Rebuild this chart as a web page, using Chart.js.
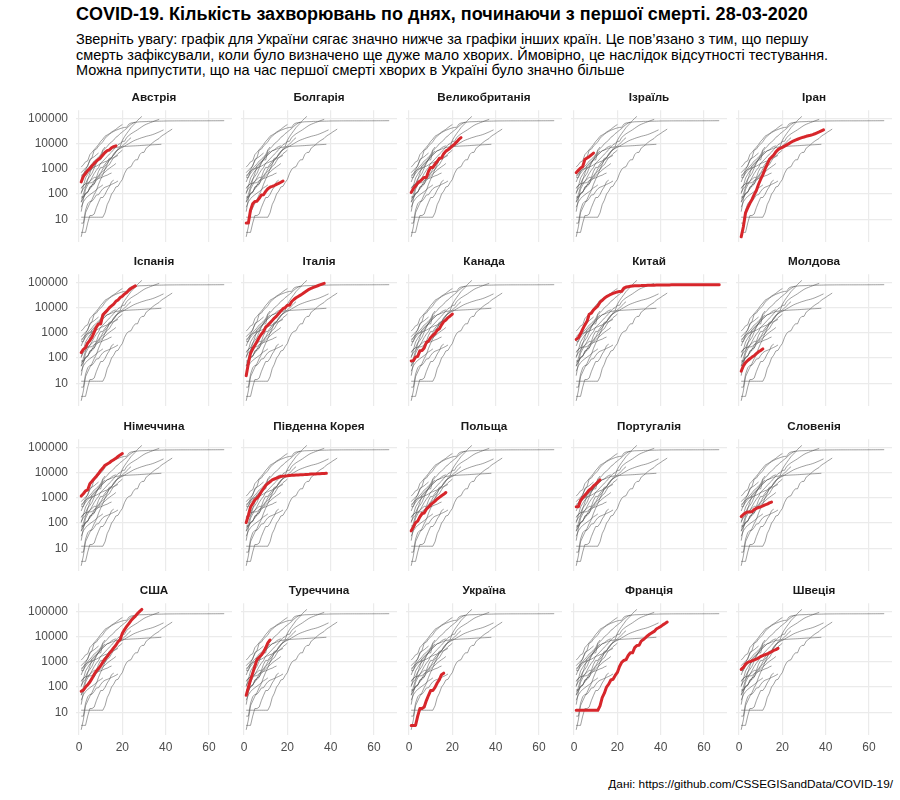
<!DOCTYPE html>
<html><head><meta charset="utf-8">
<script src="https://cdn.jsdelivr.net/npm/chart.js@4.4.1/dist/chart.umd.min.js"></script>
<style>
body{margin:0;width:900px;height:800px;background:#fff;position:relative;font-family:"Liberation Sans",Arial,sans-serif;overflow:hidden}
#title{position:absolute;left:76px;top:4px;font-weight:bold;font-size:18px;color:#000;white-space:nowrap}
#sub{position:absolute;left:76px;top:32px;font-size:14.5px;line-height:15.5px;color:#000;white-space:nowrap}
#cap{position:absolute;right:7px;top:777px;font-size:11.8px;color:#000}
canvas{position:absolute}
</style></head><body>
<div id="title">COVID-19. Кількість захворювань по днях, починаючи з першої смерті. 28-03-2020</div>
<div id="sub">Зверніть увагу: графік для України сягає значно нижче за графіки інших країн. Це пов’язано з тим, що першу<br>смерть зафіксували, коли було визначено ще дуже мало хворих. Ймовірно, це наслідок відсутності тестування.<br>Можна припустити, що на час першої смерті хворих в Україні було значно більше</div>
<div id="cap">Дані: https://github.com/CSSEGISandData/COVID-19/</div>
<script>
// Cumulative confirmed cases, day 1 = day of first death
const austria = [302,504,655,860,1018,1332,1646,2013,2388,2814,3582,4474,5283,5588,6909,7657,8271];
const bulgaria = [7,7,23,41,51,52,67,92,94,127,163,187,201,218,242,264,293,331];
const uk = [116,164,207,274,322,384,459,459,802,1144,1145,1551,1960,2642,2716,4014,5067,5745,6726,8164,9640,11812,14745,17312];
const israel = [705,883,1071,1238,2369,2693,3035,3619,4247];
const iran = [2,5,18,28,43,61,95,139,245,388,593,978,1501,2336,2922,3513,4747,5823,6566,7161,8042,9000,10075,11364,12729,13938,14991,16169,17361,18407,19644,20610,21638,23049,24811,27017,29406,32332,35408];
const spain = [165,222,259,400,500,673,1073,1695,2277,2277,5232,6391,7798,9942,11748,13910,17963,20410,25374,28768,35136,39885,49515,57786,65719,73235];
const italy = [20,62,155,229,322,453,655,888,1128,1694,2036,2502,3089,3858,4636,5883,7375,9172,10149,12462,12462,17660,21157,24747,27980,31506,35713,41035,47021,53578,59138,63927,69176,74386,80589,86498,92472];
const canada = [77,79,108,117,193,198,252,415,478,657,800,943,1277,1469,2088,2790,3251,4042,4682,5576];
const china = [548,643,920,1406,2075,2877,5509,6087,8141,9802,11891,16630,19716,23707,27440,30587,34110,36814,39829,42354,44386,44759,59895,66358,68413,70513,72434,74211,74619,75077,75550,77001,77022,77241,77754,78166,78600,78928,79356,79932,80136,80261,80386,80537,80690,80770,80823,80860,80887,80921,80932,80945,80977,81003,81033,81058,81102,81156,81250,81305,81435,81498,81591,81661,81782,81897,81999];
const moldova = [30,49,66,80,94,109,125,149,177,199,231];
const germany = [1176,1457,1908,2078,3675,4585,5795,7272,9257,12327,15320,19848,22213,24873,29056,32986,37323,43938,50871,57695];
const korea = [104,204,433,602,833,977,1261,1766,2337,3150,3736,4335,5186,5621,6088,6593,7041,7314,7478,7513,7755,7869,7979,8086,8162,8236,8320,8413,8565,8652,8799,8897,8961,9037,9137,9241,9332,9478];
const poland = [49,68,103,119,177,238,251,355,425,536,634,749,901,1051,1221,1389,1638];
const portugal = [448,448,785,1020,1280,1600,2060,2362,2995,3544,4268,5170];
const slovenia = [181,219,253,275,275,286,341,383,414,442,480,528,562,632,684];
const usa = [68,75,100,124,158,221,319,435,541,704,994,1301,1630,2183,2770,3613,4596,6344,7786,13680,19101,25493,33276,43847,53740,65778,83836,101657,121478];
const turkey = [47,98,191,359,670,1236,1529,1872,2433,3629,5698,7402];
const ukraine = [3,3,3,7,14,14,16,29,47,73,73,97,145,196,310,356];
const france = [12,12,12,12,12,12,12,12,12,12,12,18,38,57,100,130,191,204,288,380,656,957,1136,1219,1794,2293,2293,3681,4496,4532,6683,7715,9124,10970,12758,14463,16243,20123,22622,25600,29551,33402,38105];
const sweden = [500,599,814,961,1022,1103,1190,1279,1439,1639,1763,1934,2046,2286,2526,2840,3069,3447];

const countries = ["Австрія","Болгарія","Великобританія","Ізраїль","Іран","Іспанія","Італія","Канада","Китай","Молдова","Німеччина","Південна Корея","Польща","Португалія","Словенія","США","Туреччина","Україна","Франція","Швеція"];
const series = [austria,bulgaria,uk,israel,iran,spain,italy,canada,china,moldova,germany,korea,poland,portugal,slovenia,usa,turkey,ukraine,france,sweden];
const xTicks = [0,20,40,60];
const yTicks = [10,100,1000,10000,100000];

const FONT = '"Liberation Sans", Arial, sans-serif';
const toPts = arr => arr.map((v,i)=>({x:i+1,y:v}));

series.forEach((_, k) => {
  const r = Math.floor(k/5), c = k%5;
  const cv = document.createElement('canvas');
  const W = 232, H = 177;
  cv.width = W; cv.height = H;
  cv.style.left = (165*c) + 'px';
  cv.style.top = (110 + 164.5*r - 23.2) + 'px';
  cv.style.width = W+'px'; cv.style.height = H+'px';
  document.body.appendChild(cv);
  const datasets = [{
    data: toPts(series[k]), borderColor:'#d7262b', borderWidth:3, order:0,
    pointRadius:0, tension:0, borderJoinStyle:'round', borderCapStyle:'round'
  }];
  series.forEach((s,j)=>{
    datasets.push({data: toPts(s), borderColor:'rgba(85,85,85,0.8)', borderWidth:0.7, order:1,
      pointRadius:0, tension:0});
  });
  new Chart(cv, {
    type:'line',
    data:{datasets},
    options:{
      responsive:false, animation:false, devicePixelRatio:1,
      layout:{padding:0},
      plugins:{
        legend:{display:false}, tooltip:{enabled:false},
        title:{display:true, text:countries[k], fullSize:false, color:'#1a1a1a',
          font:{family:FONT, size:11.7, weight:'bold', lineHeight:1.13}, padding:{top:4,bottom:6}}
      },
      scales:{
        x:{type:'linear', min:-1.4, max:70.6,
          afterBuildTicks: s => { s.ticks = xTicks.map(v=>({value:v})); },
          afterFit: s => { s.height = 22; },
          grid:{color:'#ebebeb', lineWidth:1.2, drawTicks:false},
          border:{display:false},
          ticks:{display: r===3, color:'#4d4d4d', padding:5, font:{family:FONT,size:12}, callback:v=>String(v), maxRotation:0}
        },
        y:{type:'logarithmic', min:1.245, max:213800,
          afterBuildTicks: s => { s.ticks = yTicks.map(v=>({value:v})); },
          afterFit: s => { s.width = 76; },
          grid:{color:'#ebebeb', lineWidth:1.2, drawTicks:false},
          border:{display:false},
          ticks:{display: c===0, color:'#4d4d4d', padding:8, font:{family:FONT,size:12}, callback:v=>String(v)}
        }
      }
    }
  });
});
</script>
</body></html>
